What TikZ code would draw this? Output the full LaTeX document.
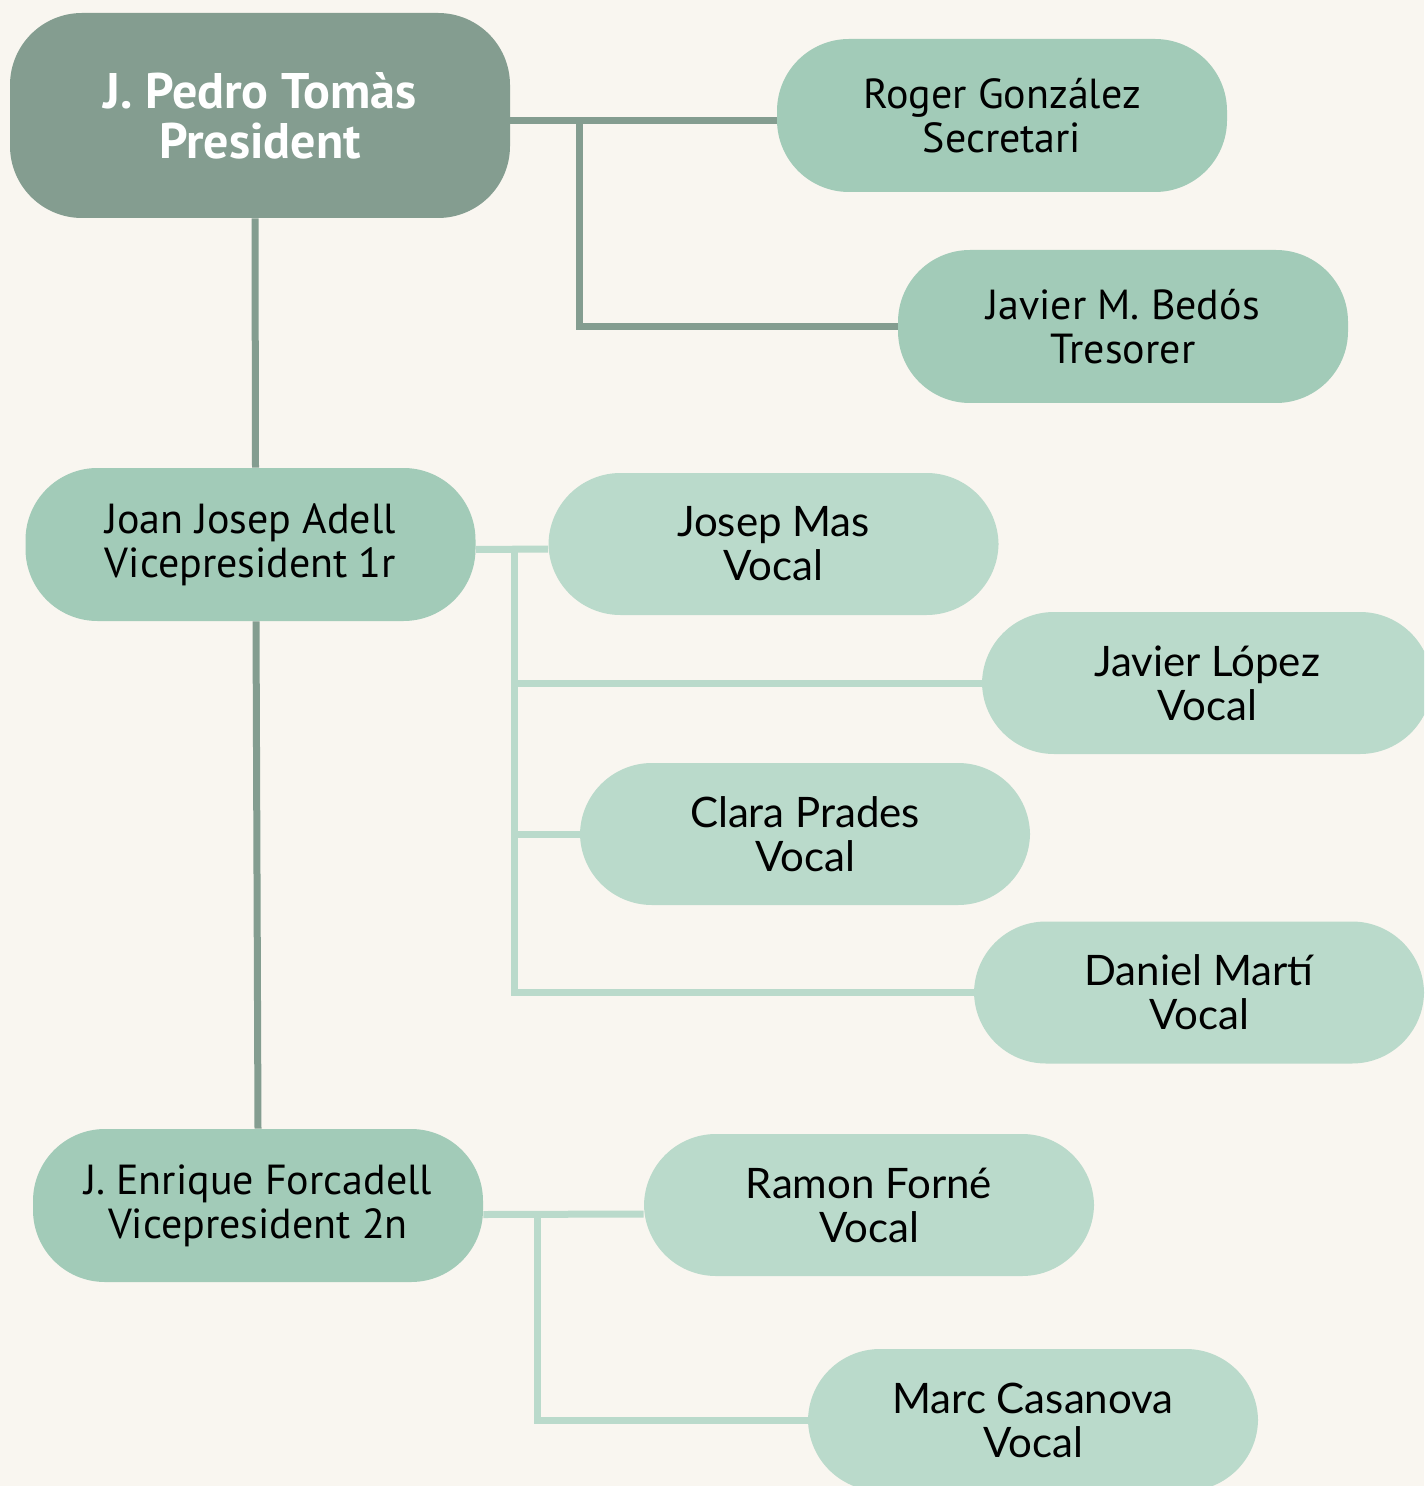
\documentclass[tikz,border=0pt]{standalone}
\usepackage{fontspec}
\setmainfont{PT Sans}
\newfontfamily\vocalfont{Lato}
\usepackage{tikz}
\definecolor{bg}{HTML}{F9F6F0}
\definecolor{dk}{HTML}{849D90}
\definecolor{md}{HTML}{A2CBB8}
\definecolor{lt}{HTML}{BADACB}
\begin{document}
\begin{tikzpicture}[x=0.5pt, y=-0.5pt,
  box/.style={rectangle, rounded corners=36pt, inner sep=0pt, align=center, minimum width=225pt, minimum height=76.5pt, font=\fontsize{21}{22}\selectfont},
  lead/.style={box, fill=md},
  vocal/.style={box, fill=lt, minimum height=71pt, font=\vocalfont\fontsize{21}{22}\selectfont},
  dline/.style={draw=dk, line width=3.5pt},
  lline/.style={draw=lt, line width=3.5pt}]
\useasboundingbox (0,0) rectangle (1424,1486);
\clip (0,0) rectangle (1424,1486);
\fill[bg] (0,0) rectangle (1424,1486);
\node[box, fill=dk, text=white, minimum width=250pt, minimum height=102.5pt, font=\bfseries\fontsize{25}{25}\selectfont] (pres) at (260,115.5) {J. Pedro Tomàs\\President};
\node[lead] (roger) at (1002,115.5) {Roger González\\Secretari};
\node[lead] (bedos) at (1123,326.5) {Javier M. Bedós\\Tresorer};
\node[lead] (adell) at (250.5,544.5) {Joan Josep Adell\\Vicepresident 1r};
\node[lead] (forc) at (258,1205.5) {J. Enrique Forcadell\\Vicepresident 2n};
\foreach \n/\x/\y/\name in {mas/773.5/544/Josep Mas, lopez/1207/683/Javier López, clara/805/834/Clara Prades, marti/1199/992.5/Daniel Martí, forne/869/1205/Ramon Forné, casa/1033/1420/Marc Casanova}{
\node[vocal] (\n) at (\x,\y) {\name\\Vocal};
}
\coordinate (b1) at (579,120);
\coordinate (b2) at (514,549);
\coordinate (b3) at (537,1214);
\draw[dline] ([yshift=-2.5pt]pres.east) -- ([yshift=-2.5pt]roger.west);
\draw[dline] (b1) |- (bedos.west);
\draw[dline] ([xshift=-2.5pt]pres.south) -- ([xshift=2.5pt]adell.north);
\draw[dline] ([xshift=2.75pt]adell.south) -- (forc.north);
\draw[lline] ([yshift=-2.5pt]adell.east) -- ([yshift=-2.5pt]mas.west);
\draw[lline] (b2) |- (lopez.west);
\draw[lline] (b2) |- (clara.west);
\draw[lline] (b2) |- (marti.west);
\draw[lline] ([yshift=-4.5pt]forc.east) -- ([yshift=-4.5pt]forne.west);
\draw[lline] (b3) |- (casa.west);
\end{tikzpicture}
\end{document}
